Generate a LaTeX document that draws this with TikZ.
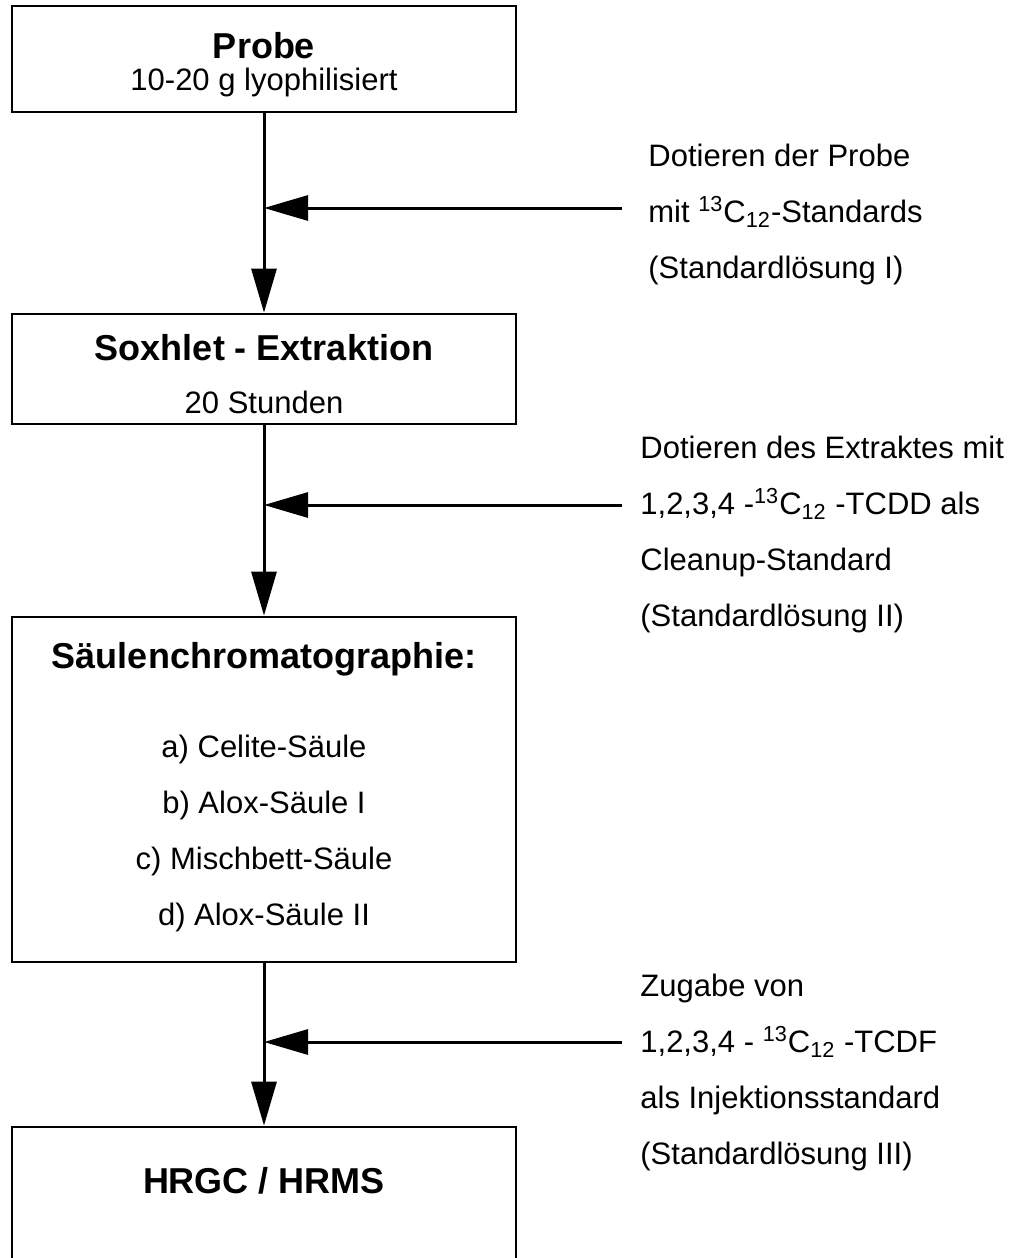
\documentclass[tikz,border=0pt]{standalone}
\usepackage{fontspec}
\setmainfont{Liberation Sans}
\usetikzlibrary{arrows.meta}

\tikzset{
  stepbox/.style={draw, line width=1.4pt, rectangle, minimum width=252pt, inner sep=0pt},
  flow/.style={line width=1.5pt, -{Triangle[length=22pt,width=12.5pt]}},
  head/.style={font=\fontsize{18}{22}\selectfont\bfseries},
  body/.style={font=\fontsize{15.5}{28}\selectfont},
  note/.style={body, align=left, anchor=west, inner sep=0pt},
}

\begin{document}
\begin{tikzpicture}[x=0.5pt,y=-0.5pt]
\useasboundingbox (0,0) rectangle (1018,1258);
\clip (0,0) rectangle (1018,1258);

\node[stepbox, minimum height=53pt] (probe) at (264,59) {};
\node[head] (probeT) at (264,46) {Probe};
\node[body] (probeS) at (264,82) {10-20 g lyophilisiert};

\node[stepbox, minimum height=55pt] (soxhlet) at (264,369) {};
\node[head] (soxT) at (264,348) {Soxhlet - Extraktion};
\node[body] (soxS) at (264,402) {20 Stunden};

\node[stepbox, minimum height=172.5pt] (saeule) at (264,789.5) {};
\node[head] (saeuleT) at (264,659) {Säulenchromatographie:};
\node[body, align=center] (saeuleL) at (264,833) {a) Celite-Säule\\b) Alox-Säule I\\c) Mischbett-Säule\\d) Alox-Säule II};

\node[stepbox, minimum height=96.5pt] (hrgc) at (264,1223.5) {};
\node[head] (hrgcT) at (264,1181) {HRGC / HRMS};

\draw[flow] (probe) -- (soxhlet);
\draw[flow] (soxhlet) -- (saeule);
\draw[flow] (saeule) -- (hrgc);

\coordinate (d1) at (622,208);
\coordinate (d2) at (622,505);
\coordinate (d3) at (622,1042);
\draw[flow] (d1) -- (d1 -| probe);
\draw[flow] (d2) -- (d2 -| probe);
\draw[flow] (d3) -- (d3 -| probe);

\node[note] (n1) at (648,214) {Dotieren der Probe\\mit \textsuperscript{13}C\textsubscript{12}-Standards\\(Standardlösung I)};
\node[note] (n2) at (640,534) {Dotieren des Extraktes mit\\1,2,3,4 -\textsuperscript{13}C\textsubscript{12} -TCDD als\\Cleanup-Standard\\(Standardlösung II)};
\node[note] (n3) at (640,1072) {Zugabe von\\1,2,3,4 - \textsuperscript{13}C\textsubscript{12} -TCDF\\als Injektionsstandard\\(Standardlösung III)};
\end{tikzpicture}
\end{document}
